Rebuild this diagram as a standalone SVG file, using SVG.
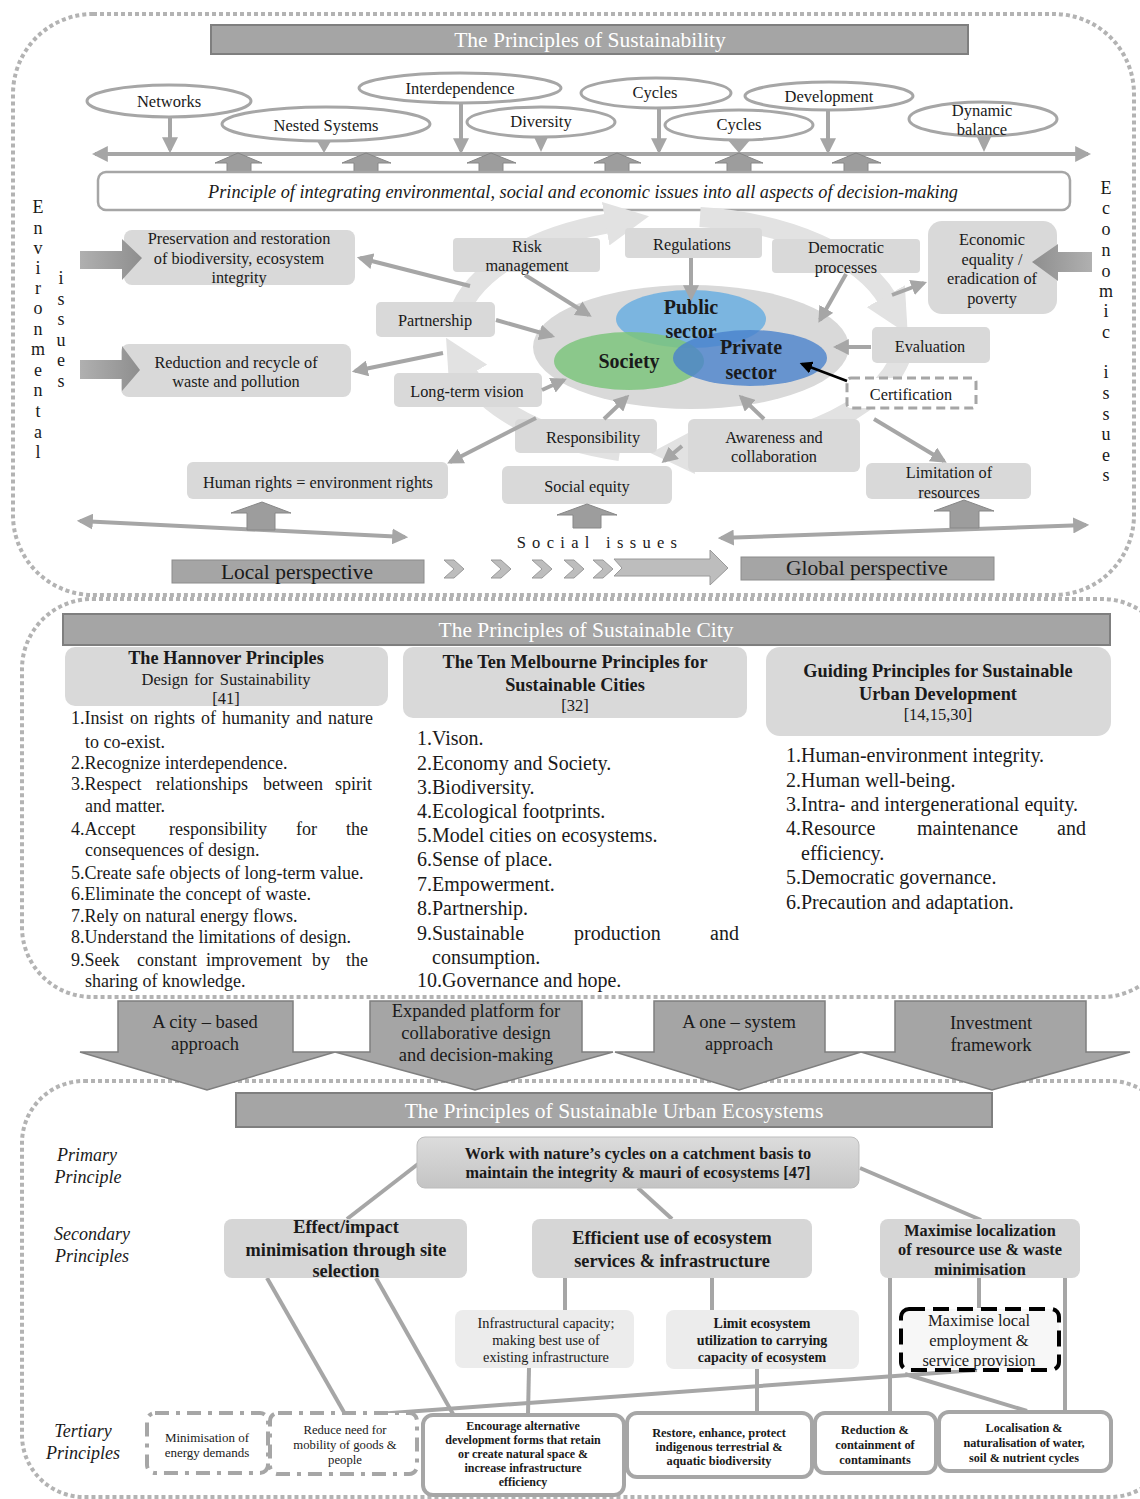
<svg xmlns="http://www.w3.org/2000/svg" width="1140" height="1499" viewBox="0 0 1140 1499">
<defs>
<style>
text{font-family:'Liberation Serif','Times New Roman',serif;fill:#1a1a1a;dominant-baseline:central}
.c{text-anchor:middle}
.b{font-weight:bold}
.i{font-style:italic}
.box{fill:#d9d9d9}
.bar{fill:#a5a5a5;stroke:#7f7f7f;stroke-width:2}
.bart{fill:#ffffff;font-size:21.5px;text-anchor:middle}
.dot{fill:none;stroke:#b3b3b3;stroke-width:4;stroke-dasharray:4 3}
.ell{fill:#ffffff;stroke:#a6a6a6;stroke-width:3}
.ar{stroke:#a6a6a6;stroke-width:4;fill:none;marker-end:url(#ah)}
.up{fill:#9d9d9d;stroke:#878787;stroke-width:1}
.ln{stroke:#a6a6a6;stroke-width:4;fill:none}
.ter{fill:#ffffff;stroke:#a6a6a6;stroke-width:4}
.dd{fill:#ffffff;stroke:#a6a6a6;stroke-width:4;stroke-dasharray:14 7 4 7}
.ring{fill:none;stroke:#e2e2e2;stroke-width:20;marker-end:url(#rh)}
.n15{font-size:16.3px}
.e16{font-size:16.5px}
.n17{font-size:18.5px}
.down{fill:#a5a5a5;stroke:#7f7f7f;stroke-width:1.5}
.chev{fill:#bdbdbd;stroke:#9a9a9a;stroke-width:1}
.sec{fill:#d6d6d6}
</style>
<marker id="ah" viewBox="0 0 10 10" refX="8" refY="5" markerWidth="4" markerHeight="4" orient="auto-start-reverse" markerUnits="strokeWidth">
<path d="M0,0 L10,5 L0,10 z" fill="#a6a6a6"/>
</marker>
<marker id="ahk" viewBox="0 0 10 10" refX="8" refY="5" markerWidth="5" markerHeight="5" orient="auto" markerUnits="strokeWidth">
<path d="M0,0 L10,5 L0,10 z" fill="#000000"/>
</marker>
<marker id="rh" viewBox="0 0 10 10" refX="1" refY="5" markerWidth="2.2" markerHeight="2.2" orient="auto" markerUnits="strokeWidth">
<path d="M0,0 L10,5 L0,10 z" fill="#e2e2e2"/>
</marker>
<linearGradient id="ga" x1="0" y1="0" x2="1" y2="0">
<stop offset="0" stop-color="#b0b0b0"/>
<stop offset="1" stop-color="#8e8e8e"/>
</linearGradient>
<linearGradient id="gb" x1="1" y1="0" x2="0" y2="0">
<stop offset="0" stop-color="#b0b0b0"/>
<stop offset="1" stop-color="#8e8e8e"/>
</linearGradient>
<linearGradient id="gp" x1="0" y1="0" x2="0" y2="1">
<stop offset="0" stop-color="#dcdcdc"/>
<stop offset="1" stop-color="#c4c4c4"/>
</linearGradient>
</defs>
<rect width="1140" height="1499" fill="#ffffff"/>

<!-- section frames -->
<g id="frames">
<rect class="dot" x="13" y="14" width="1121" height="581" rx="80"/>
<rect class="dot" x="22" y="599" width="1150" height="398" rx="70"/>
<rect class="dot" x="22" y="1081" width="1150" height="416" rx="62"/>
</g>

<!-- ============ SECTION 1 ============ -->
<g id="title1">
<rect class="bar" x="211" y="25" width="757" height="29"/>
<text class="bart" x="590" y="40">The Principles of Sustainability</text>
</g>

<g id="connectors-top">
<line class="ar" x1="95" y1="154" x2="1088" y2="154" style="marker-start:url(#ah)"/>
<line class="ar" x1="170" y1="117" x2="170" y2="150"/>
<line class="ar" x1="461" y1="103" x2="461" y2="151"/>
<line class="ar" x1="659" y1="108" x2="659" y2="151"/>
<line class="ar" x1="828" y1="110" x2="828" y2="151"/>
<polygon points="317,141 331,141 324,153" fill="#a6a6a6"/>
<polygon points="534,137 548,137 541,152" fill="#a6a6a6"/>
<polygon points="727,139 751,139 739,153" fill="#a6a6a6"/>
<polygon points="977,137 991,137 984,152" fill="#a6a6a6"/>
<polygon class="up" points="215,163 238,153 262,163 251,163 251,172 227,172 227,163"/>
<polygon class="up" points="342,163 366,153 391,163 378,163 378,172 354,172 354,163"/>
<polygon class="up" points="467,163 491,153 516,163 503,163 503,172 479,172 479,163"/>
<polygon class="up" points="594,163 617,153 641,163 629,163 629,172 605,172 605,163"/>
<polygon class="up" points="715,163 739,153 763,163 751,163 751,172 727,172 727,163"/>
<polygon class="up" points="832,163 856,153 881,163 868,163 868,172 844,172 844,163"/>
</g>

<g id="n-networks"><ellipse class="ell" cx="169" cy="101" rx="82" ry="16"/><text class="c e16" x="169" y="101">Networks</text></g>
<g id="n-nested"><ellipse class="ell" cx="326" cy="124" rx="104" ry="17"/><text class="c e16" x="326" y="125">Nested Systems</text></g>
<g id="n-interdependence"><ellipse class="ell" cx="460" cy="88" rx="101" ry="15"/><text class="c e16" x="460" y="88">Interdependence</text></g>
<g id="n-diversity"><ellipse class="ell" cx="541" cy="122" rx="74" ry="15"/><text class="c e16" x="541" y="121">Diversity</text></g>
<g id="n-cycles1"><ellipse class="ell" cx="656" cy="93" rx="75" ry="15"/><text class="c e16" x="655" y="92">Cycles</text></g>
<g id="n-cycles2"><ellipse class="ell" cx="739" cy="125" rx="74" ry="15"/><text class="c e16" x="739" y="124">Cycles</text></g>
<g id="n-development"><ellipse class="ell" cx="829" cy="96" rx="84" ry="14"/><text class="c e16" x="829" y="96">Development</text></g>
<g id="n-dynamic"><ellipse class="ell" cx="983" cy="119" rx="74" ry="17"/><text class="c e16" x="982" y="110">Dynamic</text><text class="c e16" x="982" y="129">balance</text></g>

<g id="n-principle">
<rect x="98" y="172" width="972" height="38" rx="8" fill="#ffffff" stroke="#a6a6a6" stroke-width="2.5"/>
<text class="c i" x="583" y="192" font-size="18" textLength="750" lengthAdjust="spacingAndGlyphs">Principle of integrating environmental, social and economic issues into all aspects of decision-making</text>
</g>

<g id="side-labels" font-size="18">
<text class="c" x="38" y="207">E</text><text class="c" x="38" y="228">n</text><text class="c" x="38" y="248">v</text><text class="c" x="38" y="268">i</text><text class="c" x="38" y="288">r</text><text class="c" x="38" y="308">o</text><text class="c" x="38" y="329">n</text><text class="c" x="38" y="349">m</text><text class="c" x="38" y="370">e</text><text class="c" x="38" y="390">n</text><text class="c" x="38" y="411">t</text><text class="c" x="38" y="432">a</text><text class="c" x="38" y="452">l</text>
<text class="c" x="61" y="278">i</text><text class="c" x="61" y="299">s</text><text class="c" x="61" y="319">s</text><text class="c" x="61" y="340">u</text><text class="c" x="61" y="360">e</text><text class="c" x="61" y="381">s</text>
<text class="c" x="1106" y="188">E</text><text class="c" x="1106" y="208">c</text><text class="c" x="1106" y="229">o</text><text class="c" x="1106" y="250">n</text><text class="c" x="1106" y="271">o</text><text class="c" x="1106" y="291">m</text><text class="c" x="1106" y="311">i</text><text class="c" x="1106" y="332">c</text>
<text class="c" x="1106" y="372">i</text><text class="c" x="1106" y="393">s</text><text class="c" x="1106" y="414">s</text><text class="c" x="1106" y="434">u</text><text class="c" x="1106" y="455">e</text><text class="c" x="1106" y="475">s</text>
</g>

<!-- cycle ring -->
<g id="ring">
<path class="ring" d="M456,325 A225,118 0 0 1 610,223"/>
<path class="ring" d="M700,217 A225,118 0 0 1 888,300"/>
<path class="ring" d="M904,345 A225,118 0 0 1 690,452"/>
<path class="ring" d="M620,451 A225,118 0 0 1 466,372"/>
</g>

<g id="n-core">
<ellipse cx="691" cy="347" rx="158" ry="62" fill="#d9d9d9"/>
<ellipse cx="691" cy="319" rx="75" ry="29" fill="#6aaee0" fill-opacity="0.85"/>
<ellipse cx="629" cy="361" rx="75" ry="29" fill="#7cc47c" fill-opacity="0.85"/>
<ellipse cx="750" cy="358" rx="77" ry="28" fill="#4a82cc" fill-opacity="0.8"/>
<text class="c b" x="691" y="307" font-size="20">Public</text>
<text class="c b" x="691" y="331" font-size="20">sector</text>
<text class="c b" x="629" y="361" font-size="20">Society</text>
<text class="c b" x="751" y="347" font-size="20">Private</text>
<text class="c b" x="751" y="372" font-size="20">sector</text>
</g>

<g id="n-preservation">
<rect class="box" x="124" y="230" width="231" height="55" rx="8"/>
<polygon points="80,251 122,251 122,239 142,258 122,280 122,269 80,269" fill="url(#ga)"/>
<text class="c n15" x="239" y="238">Preservation and restoration</text>
<text class="c n15" x="239" y="258">of biodiversity, ecosystem</text>
<text class="c n15" x="239" y="277">integrity</text>
</g>
<g id="n-reduction">
<rect class="box" x="121" y="344" width="230" height="53" rx="8"/>
<polygon points="80,360 122,360 122,346 140,370 122,391 122,379 80,379" fill="url(#ga)"/>
<text class="c n15" x="236" y="362">Reduction and recycle of</text>
<text class="c n15" x="236" y="381">waste and pollution</text>
</g>
<g id="n-economic">
<rect class="box" x="928" y="221" width="129" height="93" rx="14"/>
<polygon points="1092,252 1058,252 1058,244 1032,262 1058,281 1058,272 1092,272" fill="url(#gb)"/>
<text class="c n15" x="992" y="239">Economic</text>
<text class="c n15" x="992" y="259">equality /</text>
<text class="c n15" x="992" y="278">eradication of</text>
<text class="c n15" x="992" y="298">poverty</text>
</g>
<g id="n-risk"><rect class="box" x="453" y="238" width="147" height="34" rx="4"/><text class="c n15" x="527" y="246">Risk</text><text class="c n15" x="527" y="265">management</text></g>
<g id="n-regulations"><rect class="box" x="625" y="228" width="137" height="30" rx="4"/><text class="c n15" x="692" y="244">Regulations</text></g>
<g id="n-democratic"><rect class="box" x="772" y="239" width="148" height="34" rx="4"/><text class="c n15" x="846" y="247">Democratic</text><text class="c n15" x="846" y="267">processes</text></g>
<g id="n-partnership"><rect class="box" x="376" y="302" width="119" height="35" rx="5"/><text class="c n15" x="435" y="320">Partnership</text></g>
<g id="n-longterm"><rect class="box" x="394" y="373" width="148" height="34" rx="5"/><text class="c n15" x="467" y="391">Long-term vision</text></g>
<g id="n-evaluation"><rect class="box" x="872" y="327" width="118" height="36" rx="5"/><text class="c n15" x="930" y="346">Evaluation</text></g>
<g id="n-certification"><rect x="847" y="378" width="129" height="30" rx="4" fill="#ffffff" stroke="#a6a6a6" stroke-width="3" stroke-dasharray="9 5"/><text class="c n15" x="911" y="394">Certification</text></g>
<g id="n-responsibility"><rect class="box" x="515" y="419" width="142" height="34" rx="5"/><text class="c n15" x="593" y="437">Responsibility</text></g>
<g id="n-awareness"><rect class="box" x="688" y="419" width="172" height="53" rx="6"/><text class="c n15" x="774" y="437">Awareness and</text><text class="c n15" x="774" y="456">collaboration</text></g>
<g id="n-humanrights"><rect class="box" x="187" y="462" width="261" height="37" rx="6"/><text class="c n15" x="318" y="482">Human rights = environment rights</text></g>
<g id="n-socialequity"><rect class="box" x="502" y="466" width="170" height="38" rx="6"/><text class="c n15" x="587" y="486">Social equity</text></g>
<g id="n-limitation"><rect class="box" x="866" y="463" width="165" height="36" rx="6"/><text class="c n15" x="949" y="472">Limitation of</text><text class="c n15" x="949" y="492">resources</text></g>

<g id="connectors-core">
<line class="ar" x1="525" y1="275" x2="589" y2="315"/>
<line class="ar" x1="691" y1="258" x2="691" y2="298"/>
<line class="ar" x1="846" y1="274" x2="820" y2="320"/>
<line class="ar" x1="496" y1="320" x2="552" y2="336"/>
<line class="ar" x1="542" y1="390" x2="564" y2="380"/>
<line class="ar" x1="604" y1="419" x2="627" y2="397"/>
<line class="ar" x1="764" y1="419" x2="741" y2="397"/>
<line class="ar" x1="871" y1="347" x2="836" y2="347"/>
<line x1="847" y1="381" x2="802" y2="364" stroke="#000000" stroke-width="2.5" marker-end="url(#ahk)"/>
<line class="ar" x1="470" y1="286" x2="360" y2="258"/>
<line class="ar" x1="443" y1="353" x2="355" y2="371"/>
<line class="ar" x1="536" y1="418" x2="450" y2="462"/>
<line class="ar" x1="682" y1="446" x2="664" y2="461"/>
<line class="ar" x1="892" y1="295" x2="924" y2="283"/>
<line class="ar" x1="874" y1="419" x2="944" y2="461"/>
<line class="ar" x1="80" y1="521" x2="405" y2="537" style="marker-start:url(#ah)"/>
<line class="ar" x1="721" y1="538" x2="1086" y2="525" style="marker-start:url(#ah)"/>
<polygon class="up" points="231,513 262,502 291,513 275,513 275,530 247,530 247,513"/>
<polygon class="up" points="557,515 587,504 617,515 601,515 601,528 573,528 573,515"/>
<polygon class="up" points="934,511 964,500 994,511 979,511 979,528 950,528 950,511"/>
</g>

<g id="social-issues"><text class="c" x="600" y="542" font-size="16.5" letter-spacing="6.3">Social issues</text></g>

<g id="n-local"><rect x="172" y="560" width="252" height="23" fill="#a5a5a5" stroke="#8c8c8c" stroke-width="1"/><text class="c" x="297" y="572" font-size="21.5">Local perspective</text></g>
<g id="n-global"><rect x="741" y="557" width="253" height="23" fill="#a5a5a5" stroke="#8c8c8c" stroke-width="1"/><text class="c" x="867" y="568" font-size="21.5">Global perspective</text></g>
<g id="perspective-arrow">
<polygon class="chev" points="444,560 454,560 464,569 454,578 444,578 454,569"/>
<polygon class="chev" points="491,560 501,560 511,569 501,578 491,578 501,569"/>
<polygon class="chev" points="532,560 542,560 552,569 542,578 532,578 542,569"/>
<polygon class="chev" points="564,560 574,560 584,569 574,578 564,578 574,569"/>
<polygon class="chev" points="593,560 603,560 613,569 603,578 593,578 603,569"/>
<polygon class="chev" points="614,559 710,559 710,550 728,568 710,585 710,576 614,576 622,568"/>
</g>

<!-- ============ SECTION 2 ============ -->
<g id="title2">
<rect class="bar" x="63" y="614" width="1047" height="31"/>
<text class="bart" x="586" y="630">The Principles of Sustainable City</text>
</g>

<g id="n-hannover">
<rect class="box" x="65" y="647" width="323" height="59" rx="10"/>
<text class="c b" x="226" y="658" font-size="18.3">The Hannover Principles</text>
<text class="c" x="226" y="679" font-size="16.5" word-spacing="2">Design for Sustainability</text>
<text class="c" x="226" y="698" font-size="16.5">[41]</text>
<g font-size="18">
<text y="718"><tspan x="71">1.Insist</tspan><tspan x="130">on</tspan><tspan x="154">rights</tspan><tspan x="201">of</tspan><tspan x="222">humanity</tspan><tspan x="296">and</tspan><tspan x="328">nature</tspan></text>
<text x="85" y="742">to co-exist.</text>
<text x="71" y="763">2.Recognize interdependence.</text>
<text y="784"><tspan x="71">3.Respect</tspan><tspan x="156">relationships</tspan><tspan x="263">between</tspan><tspan x="335">spirit</tspan></text>
<text x="85" y="806">and matter.</text>
<text y="829"><tspan x="71">4.Accept</tspan><tspan x="169">responsibility</tspan><tspan x="296">for</tspan><tspan x="346">the</tspan></text>
<text x="85" y="850">consequences of design.</text>
<text x="71" y="873">5.Create safe objects of long-term value.</text>
<text x="71" y="894">6.Eliminate  the concept of waste.</text>
<text x="71" y="916">7.Rely on natural energy flows.</text>
<text x="71" y="937">8.Understand the limitations  of design.</text>
<text y="960"><tspan x="71">9.Seek</tspan><tspan x="137">constant</tspan><tspan x="206">improvement</tspan><tspan x="312">by</tspan><tspan x="346">the</tspan></text>
<text x="85" y="981">sharing of knowledge.</text>
</g>
</g>

<g id="n-melbourne">
<rect class="box" x="403" y="647" width="344" height="71" rx="10"/>
<text class="c b" x="575" y="662" font-size="18.3">The Ten Melbourne Principles for</text>
<text class="c b" x="575" y="685" font-size="18.3">Sustainable Cities</text>
<text class="c" x="575" y="705" font-size="16.5">[32]</text>
<g font-size="20">
<text x="417" y="738">1.Vison.</text>
<text x="417" y="763">2.Economy and Society.</text>
<text x="417" y="787">3.Biodiversity.</text>
<text x="417" y="811">4.Ecological footprints.</text>
<text x="417" y="835">5.Model cities on ecosystems.</text>
<text x="417" y="859">6.Sense of place.</text>
<text x="417" y="884">7.Empowerment.</text>
<text x="417" y="908">8.Partnership.</text>
<text y="933"><tspan x="417">9.Sustainable</tspan><tspan x="574">production</tspan><tspan x="710">and</tspan></text>
<text x="432" y="957">consumption.</text>
<text x="417" y="980">10.Governance and hope.</text>
</g>
</g>

<g id="n-guiding">
<rect class="box" x="766" y="647" width="345" height="89" rx="14"/>
<text class="c b" x="938" y="671" font-size="18.3">Guiding Principles for Sustainable</text>
<text class="c b" x="938" y="694" font-size="18.3">Urban Development</text>
<text class="c" x="938" y="714" font-size="16.5">[14,15,30]</text>
<g font-size="20">
<text x="786" y="755">1.Human-environment integrity.</text>
<text x="786" y="780">2.Human well-being.</text>
<text x="786" y="804">3.Intra- and intergenerational equity.</text>
<text y="828"><tspan x="786">4.Resource</tspan><tspan x="917">maintenance</tspan><tspan x="1057">and</tspan></text>
<text x="801" y="853">efficiency.</text>
<text x="786" y="877">5.Democratic governance.</text>
<text x="786" y="902">6.Precaution and adaptation.</text>
</g>
</g>

<!-- ============ transition arrows ============ -->
<g id="n-citybased">
<polygon class="down" points="118,1001 293,1001 293,1052 335,1052 207,1090 80,1052 118,1052"/>
<text class="c n17" x="205" y="1022">A city – based</text>
<text class="c n17" x="205" y="1044">approach</text>
</g>
<g id="n-expanded">
<polygon class="down" points="370,1001 582,1001 582,1052 613,1052 475,1090 335,1052 370,1052"/>
<text class="c n17" x="476" y="1011">Expanded platform for</text>
<text class="c n17" x="476" y="1033">collaborative design</text>
<text class="c n17" x="476" y="1055">and decision-making</text>
</g>
<g id="n-onesystem">
<polygon class="down" points="654,1001 825,1001 825,1052 861,1052 739,1090 615,1052 654,1052"/>
<text class="c n17" x="739" y="1022">A one – system</text>
<text class="c n17" x="739" y="1044">approach</text>
</g>
<g id="n-investment">
<polygon class="down" points="895,1001 1086,1001 1086,1052 1130,1052 992,1090 861,1052 895,1052"/>
<text class="c n17" x="991" y="1023">Investment</text>
<text class="c n17" x="991" y="1045">framework</text>
</g>

<!-- ============ SECTION 3 ============ -->
<g id="title3">
<rect class="bar" x="236" y="1093" width="756" height="34"/>
<text class="bart" x="614" y="1111">The Principles of Sustainable Urban Ecosystems</text>
</g>

<g id="level-labels" font-size="18">
<text class="c i" x="87" y="1155">Primary</text>
<text class="c i" x="88" y="1177">Principle</text>
<text class="c i" x="92" y="1234">Secondary</text>
<text class="c i" x="92" y="1256">Principles</text>
<text class="c i" x="83" y="1431">Tertiary</text>
<text class="c i" x="83" y="1453">Principles</text>
</g>

<g id="connectors-tree">
<line class="ln" x1="418" y1="1164" x2="347" y2="1219"/>
<line class="ln" x1="638" y1="1188" x2="672" y2="1219"/>
<line class="ln" x1="860" y1="1168" x2="981" y2="1220"/>
<line class="ln" x1="267" y1="1278" x2="345" y2="1414"/>
<line class="ln" x1="376" y1="1278" x2="453" y2="1414"/>
<line class="ln" x1="565" y1="1278" x2="565" y2="1310"/>
<line class="ln" x1="712" y1="1278" x2="712" y2="1310"/>
<line class="ln" x1="529" y1="1368" x2="528" y2="1414"/>
<line class="ln" x1="757" y1="1369" x2="757" y2="1413"/>
<line class="ln" x1="890" y1="1278" x2="890" y2="1413"/>
<line class="ln" x1="979" y1="1278" x2="979" y2="1308"/>
<line class="ln" x1="1065" y1="1278" x2="1065" y2="1412"/>
<line class="ln" x1="378" y1="1414" x2="977" y2="1370"/>
<line class="ln" x1="905" y1="1374" x2="1027" y2="1411"/>
</g>

<g id="n-primary">
<rect x="417" y="1137" width="442" height="51" rx="8" fill="url(#gp)" stroke="#bdbdbd" stroke-width="1"/>
<text class="c b" x="638" y="1153" font-size="16.3">Work with nature’s cycles on a catchment basis to</text>
<text class="c b" x="638" y="1172" font-size="16.3">maintain the integrity &amp; mauri of ecosystems [47]</text>
</g>
<g id="n-effect">
<rect class="sec" x="224" y="1219" width="243" height="59" rx="8"/>
<text class="c b" x="346" y="1227" font-size="18.3">Effect/impact</text>
<text class="c b" x="346" y="1250" font-size="18.3">minimisation through site</text>
<text class="c b" x="346" y="1271" font-size="18.3">selection</text>
</g>
<g id="n-efficient">
<rect class="sec" x="532" y="1219" width="280" height="59" rx="8"/>
<text class="c b" x="672" y="1238" font-size="18.3">Efficient use of ecosystem</text>
<text class="c b" x="672" y="1261" font-size="18.3">services &amp; infrastructure</text>
</g>
<g id="n-maximise">
<rect class="sec" x="880" y="1219" width="200" height="59" rx="8"/>
<text class="c b" x="980" y="1230" font-size="16.3">Maximise localization</text>
<text class="c b" x="980" y="1249" font-size="16.3">of resource use &amp; waste</text>
<text class="c b" x="980" y="1269" font-size="16.3">minimisation</text>
</g>
<g id="n-infrastructural">
<rect x="455" y="1310" width="179" height="58" rx="8" fill="#ececec"/>
<text class="c" x="546" y="1323" font-size="14.3">Infrastructural capacity;</text>
<text class="c" x="546" y="1340" font-size="14.3">making best use of</text>
<text class="c" x="546" y="1357" font-size="14.3">existing infrastructure</text>
</g>
<g id="n-limit">
<rect x="666" y="1310" width="193" height="59" rx="8" fill="#ececec"/>
<text class="c b" x="762" y="1323" font-size="14">Limit ecosystem</text>
<text class="c b" x="762" y="1340" font-size="14">utilization to carrying</text>
<text class="c b" x="762" y="1357" font-size="14">capacity of ecosystem</text>
</g>
<g id="n-localemployment">
<rect x="901" y="1309" width="158" height="61" rx="8" fill="#f7f7f7" stroke="#000000" stroke-width="4" stroke-dasharray="16 8"/>
<text class="c" x="979" y="1320" font-size="16.5">Maximise local</text>
<text class="c" x="979" y="1340" font-size="16.5">employment &amp;</text>
<text class="c" x="979" y="1360" font-size="16.5">service provision</text>
</g>

<g id="n-energy">
<rect class="dd" x="147" y="1413" width="121" height="60" rx="8"/>
<text class="c" x="207" y="1437" font-size="13">Minimisation of</text>
<text class="c" x="207" y="1452" font-size="13">energy demands</text>
</g>
<g id="n-mobility">
<rect class="dd" x="270" y="1413" width="147" height="61" rx="8"/>
<text class="c" x="345" y="1430" font-size="12.7">Reduce need for</text>
<text class="c" x="345" y="1445" font-size="12.7">mobility of goods &amp;</text>
<text class="c" x="345" y="1460" font-size="12.7">people</text>
</g>
<g id="n-encourage">
<rect class="ter" x="423" y="1415" width="201" height="80" rx="10"/>
<text class="c b" x="523" y="1426" font-size="12">Encourage alternative</text>
<text class="c b" x="523" y="1440" font-size="12">development  forms that retain</text>
<text class="c b" x="523" y="1454" font-size="12">or create natural space &amp;</text>
<text class="c b" x="523" y="1468" font-size="12">increase infrastructure</text>
<text class="c b" x="523" y="1482" font-size="12">efficiency</text>
</g>
<g id="n-restore">
<rect class="ter" x="627" y="1413" width="185" height="64" rx="10"/>
<text class="c b" x="719" y="1433" font-size="12.4">Restore, enhance, protect</text>
<text class="c b" x="719" y="1447" font-size="12.4">indigenous terrestrial  &amp;</text>
<text class="c b" x="719" y="1461" font-size="12.4">aquatic biodiversity</text>
</g>
<g id="n-contaminants">
<rect class="ter" x="815" y="1413" width="121" height="60" rx="10"/>
<text class="c b" x="875" y="1430" font-size="12.4">Reduction &amp;</text>
<text class="c b" x="875" y="1445" font-size="12.4">containment of</text>
<text class="c b" x="875" y="1460" font-size="12.4">contaminants</text>
</g>
<g id="n-localisation">
<rect class="ter" x="939" y="1412" width="172" height="59" rx="10"/>
<text class="c b" x="1024" y="1428" font-size="12.2">Localisation &amp;</text>
<text class="c b" x="1024" y="1443" font-size="12.2">naturalisation of water,</text>
<text class="c b" x="1024" y="1458" font-size="12.2">soil &amp; nutrient cycles</text>
</g>
</svg>
